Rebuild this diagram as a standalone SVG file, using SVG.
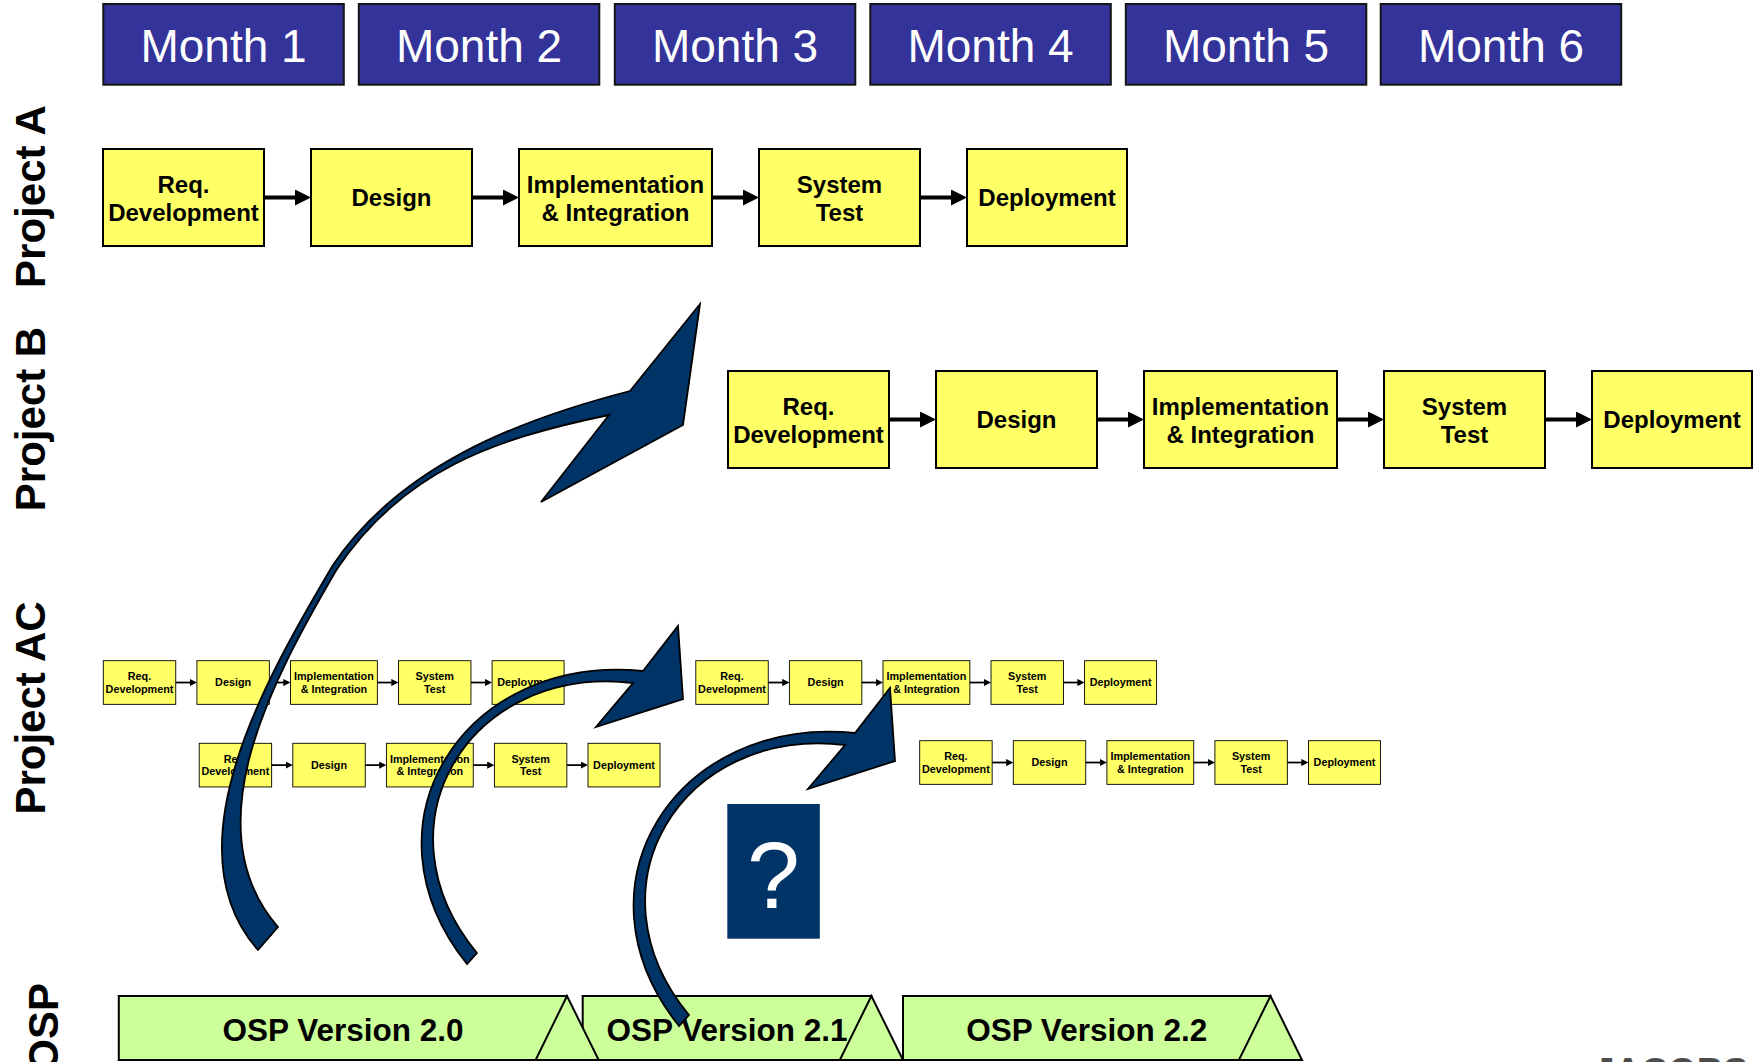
<svg xmlns="http://www.w3.org/2000/svg" width="1763" height="1062" viewBox="0 0 1763 1062">
<defs>
<style>
.month rect{fill:#333399;stroke:#151515;stroke-width:2}
.month text{font-family:"Liberation Sans",Arial,sans-serif;font-size:46px;fill:#ffffff;text-anchor:middle}
.step rect{fill:#FFFF66;stroke:#000000;stroke-width:2}
.step text{font-family:"Liberation Sans",Arial,sans-serif;font-weight:bold;font-size:24px;fill:#000000;text-anchor:middle}
.flow line{stroke:#000000;stroke-width:4;marker-end:url(#ah)}
.lane{font-family:"Liberation Sans",Arial,sans-serif;font-weight:bold;font-size:42px;fill:#000000;text-anchor:middle}
.osp rect,.osp polygon{fill:#CCFF99;stroke:#000000;stroke-width:2}
.osp text{font-family:"Liberation Sans",Arial,sans-serif;font-weight:bold;font-size:31.5px;fill:#000000;text-anchor:middle}
.carrow{fill:#003366;stroke:#000000;stroke-width:1.8;stroke-linejoin:miter}
.qbox rect{fill:#003366}
.qbox text{font-family:"Liberation Sans",Arial,sans-serif;font-size:95px;fill:#ffffff;text-anchor:middle}
.logo{font-family:"Liberation Sans",Arial,sans-serif;font-weight:bold;font-size:37px;fill:#4d4d4d}
</style>
<marker id="ah" markerUnits="userSpaceOnUse" markerWidth="16" markerHeight="16" refX="8" refY="8" orient="auto">
<path d="M0,0 L16,8 L0,16 Z" fill="#000000"/>
</marker>
</defs>
<rect x="0" y="0" width="1763" height="1062" fill="#ffffff"/>

<!-- Month headers -->
<g id="month1" class="month"><rect x="103.3" y="4" width="240.5" height="80.7"/><text x="223.5" y="61.7">Month 1</text></g>
<g id="month2" class="month"><rect x="358.8" y="4" width="240.5" height="80.7"/><text x="479" y="61.7">Month 2</text></g>
<g id="month3" class="month"><rect x="614.8" y="4" width="240.5" height="80.7"/><text x="735" y="61.7">Month 3</text></g>
<g id="month4" class="month"><rect x="870.3" y="4" width="240.5" height="80.7"/><text x="990.5" y="61.7">Month 4</text></g>
<g id="month5" class="month"><rect x="1125.8" y="4" width="240.5" height="80.7"/><text x="1246" y="61.7">Month 5</text></g>
<g id="month6" class="month"><rect x="1380.7" y="4" width="240.5" height="80.7"/><text x="1501" y="61.7">Month 6</text></g>

<!-- Lane labels -->
<text id="lane-a" class="lane" transform="translate(44.5,196.5) rotate(-90)">Project A</text>
<text id="lane-b" class="lane" transform="translate(44.5,419) rotate(-90)">Project B</text>
<text id="lane-ac" class="lane" transform="translate(44.5,708) rotate(-90)">Project AC</text>
<text id="lane-osp" class="lane" style="text-anchor:end" transform="translate(58,983) rotate(-90)">OSP</text>

<!-- Project A -->
<g id="rowA" transform="translate(103,149)">
<g id="a-req" class="step"><rect x="0" y="0" width="161" height="97"/><text x="80.5" y="43.5">Req.</text><text x="80.5" y="71.5">Development</text></g>
<g id="a-design" class="step"><rect x="208" y="0" width="161" height="97"/><text x="288.5" y="56.5">Design</text></g>
<g id="a-impl" class="step"><rect x="416" y="0" width="193" height="97"/><text x="512.5" y="43.5">Implementation</text><text x="512.5" y="71.5">&amp; Integration</text></g>
<g id="a-test" class="step"><rect x="656" y="0" width="161" height="97"/><text x="736.5" y="43.5">System</text><text x="736.5" y="71.5">Test</text></g>
<g id="a-deploy" class="step"><rect x="864" y="0" width="160" height="97"/><text x="944" y="56.5">Deployment</text></g>
<g id="a-flow" class="flow"><line x1="161" y1="48.5" x2="200" y2="48.5"/><line x1="369" y1="48.5" x2="408" y2="48.5"/><line x1="609" y1="48.5" x2="648" y2="48.5"/><line x1="817" y1="48.5" x2="856" y2="48.5"/></g>
</g>

<!-- Project B -->
<g id="rowB" transform="translate(728,371)">
<g id="b-req" class="step"><rect x="0" y="0" width="161" height="97"/><text x="80.5" y="43.5">Req.</text><text x="80.5" y="71.5">Development</text></g>
<g id="b-design" class="step"><rect x="208" y="0" width="161" height="97"/><text x="288.5" y="56.5">Design</text></g>
<g id="b-impl" class="step"><rect x="416" y="0" width="193" height="97"/><text x="512.5" y="43.5">Implementation</text><text x="512.5" y="71.5">&amp; Integration</text></g>
<g id="b-test" class="step"><rect x="656" y="0" width="161" height="97"/><text x="736.5" y="43.5">System</text><text x="736.5" y="71.5">Test</text></g>
<g id="b-deploy" class="step"><rect x="864" y="0" width="160" height="97"/><text x="944" y="56.5">Deployment</text></g>
<g id="b-flow" class="flow"><line x1="161" y1="48.5" x2="200" y2="48.5"/><line x1="369" y1="48.5" x2="408" y2="48.5"/><line x1="609" y1="48.5" x2="648" y2="48.5"/><line x1="817" y1="48.5" x2="856" y2="48.5"/></g>
</g>

<!-- Project AC, row 1, first -->
<g id="rowAC1a" transform="translate(103.3,660.7) scale(0.45)">
<g id="ac1a-req" class="step"><rect x="0" y="0" width="161" height="97"/><text x="80.5" y="43.5">Req.</text><text x="80.5" y="71.5">Development</text></g>
<g id="ac1a-design" class="step"><rect x="208" y="0" width="161" height="97"/><text x="288.5" y="56.5">Design</text></g>
<g id="ac1a-impl" class="step"><rect x="416" y="0" width="193" height="97"/><text x="512.5" y="43.5">Implementation</text><text x="512.5" y="71.5">&amp; Integration</text></g>
<g id="ac1a-test" class="step"><rect x="656" y="0" width="161" height="97"/><text x="736.5" y="43.5">System</text><text x="736.5" y="71.5">Test</text></g>
<g id="ac1a-deploy" class="step"><rect x="864" y="0" width="160" height="97"/><text x="944" y="56.5">Deployment</text></g>
<g id="ac1a-flow" class="flow"><line x1="161" y1="48.5" x2="200" y2="48.5"/><line x1="369" y1="48.5" x2="408" y2="48.5"/><line x1="609" y1="48.5" x2="648" y2="48.5"/><line x1="817" y1="48.5" x2="856" y2="48.5"/></g>
</g>

<!-- Project AC, row 1, second -->
<g id="rowAC1b" transform="translate(695.8,660.7) scale(0.45)">
<g id="ac1b-req" class="step"><rect x="0" y="0" width="161" height="97"/><text x="80.5" y="43.5">Req.</text><text x="80.5" y="71.5">Development</text></g>
<g id="ac1b-design" class="step"><rect x="208" y="0" width="161" height="97"/><text x="288.5" y="56.5">Design</text></g>
<g id="ac1b-impl" class="step"><rect x="416" y="0" width="193" height="97"/><text x="512.5" y="43.5">Implementation</text><text x="512.5" y="71.5">&amp; Integration</text></g>
<g id="ac1b-test" class="step"><rect x="656" y="0" width="161" height="97"/><text x="736.5" y="43.5">System</text><text x="736.5" y="71.5">Test</text></g>
<g id="ac1b-deploy" class="step"><rect x="864" y="0" width="160" height="97"/><text x="944" y="56.5">Deployment</text></g>
<g id="ac1b-flow" class="flow"><line x1="161" y1="48.5" x2="200" y2="48.5"/><line x1="369" y1="48.5" x2="408" y2="48.5"/><line x1="609" y1="48.5" x2="648" y2="48.5"/><line x1="817" y1="48.5" x2="856" y2="48.5"/></g>
</g>

<!-- Project AC, row 2, first -->
<g id="rowAC2a" transform="translate(199.2,743.3) scale(0.45)">
<g id="ac2a-req" class="step"><rect x="0" y="0" width="161" height="97"/><text x="80.5" y="43.5">Req.</text><text x="80.5" y="71.5">Development</text></g>
<g id="ac2a-design" class="step"><rect x="208" y="0" width="161" height="97"/><text x="288.5" y="56.5">Design</text></g>
<g id="ac2a-impl" class="step"><rect x="416" y="0" width="193" height="97"/><text x="512.5" y="43.5">Implementation</text><text x="512.5" y="71.5">&amp; Integration</text></g>
<g id="ac2a-test" class="step"><rect x="656" y="0" width="161" height="97"/><text x="736.5" y="43.5">System</text><text x="736.5" y="71.5">Test</text></g>
<g id="ac2a-deploy" class="step"><rect x="864" y="0" width="160" height="97"/><text x="944" y="56.5">Deployment</text></g>
<g id="ac2a-flow" class="flow"><line x1="161" y1="48.5" x2="200" y2="48.5"/><line x1="369" y1="48.5" x2="408" y2="48.5"/><line x1="609" y1="48.5" x2="648" y2="48.5"/><line x1="817" y1="48.5" x2="856" y2="48.5"/></g>
</g>

<!-- Project AC, row 2, second -->
<g id="rowAC2b" transform="translate(919.7,740.7) scale(0.45)">
<g id="ac2b-req" class="step"><rect x="0" y="0" width="161" height="97"/><text x="80.5" y="43.5">Req.</text><text x="80.5" y="71.5">Development</text></g>
<g id="ac2b-design" class="step"><rect x="208" y="0" width="161" height="97"/><text x="288.5" y="56.5">Design</text></g>
<g id="ac2b-impl" class="step"><rect x="416" y="0" width="193" height="97"/><text x="512.5" y="43.5">Implementation</text><text x="512.5" y="71.5">&amp; Integration</text></g>
<g id="ac2b-test" class="step"><rect x="656" y="0" width="161" height="97"/><text x="736.5" y="43.5">System</text><text x="736.5" y="71.5">Test</text></g>
<g id="ac2b-deploy" class="step"><rect x="864" y="0" width="160" height="97"/><text x="944" y="56.5">Deployment</text></g>
<g id="ac2b-flow" class="flow"><line x1="161" y1="48.5" x2="200" y2="48.5"/><line x1="369" y1="48.5" x2="408" y2="48.5"/><line x1="609" y1="48.5" x2="648" y2="48.5"/><line x1="817" y1="48.5" x2="856" y2="48.5"/></g>
</g>

<!-- Question box -->
<g id="question" class="qbox"><rect x="727.3" y="804" width="92.5" height="134.7"/><text x="773.5" y="907.7">?</text></g>

<!-- OSP versions (drawn right to left so each triangle overlaps the next banner) -->
<g id="osp22" class="osp"><rect x="903" y="996" width="367.5" height="64"/><polygon points="1270.5,996 1238.9,1060 1302,1060"/><text x="1086.7" y="1040.7">OSP Version 2.2</text></g>
<g id="osp21" class="osp"><rect x="582.7" y="996" width="288.7" height="64"/><polygon points="871.4,996 839.8,1060 903,1060"/><text x="727" y="1040.7">OSP Version 2.1</text></g>
<g id="osp20" class="osp"><rect x="118.8" y="996" width="448.2" height="64"/><polygon points="567,996 535.6,1060 598.7,1060"/><text x="343" y="1040.7">OSP Version 2.0</text></g>

<!-- Curved arrows -->
<g id="curved-arrows">
<path class="carrow" d="M 258,950 C 168,848 266,678 333,565 C 399,467 515.5,420.5 630,391 L 700,304 L 683,425 L 541,502 L 609,415 C 493,439 403,471 337,569 C 272,680 192,828 278,927 Z"/>
<path class="carrow" d="M 467,964 C 355,824 464,653 643,671 L 678,626 L 683,699 L 596,727 L 633,683 C 468,664 372,826 477,953 Z"/>
<path class="carrow" transform="translate(212,62)" d="M 467,964 C 355,824 464,653 643,671 L 678,626 L 683,699 L 596,727 L 633,683 C 468,664 372,826 477,953 Z"/>
</g>

<text id="logo" class="logo" x="1594" y="1084">JACOBS</text>
</svg>
